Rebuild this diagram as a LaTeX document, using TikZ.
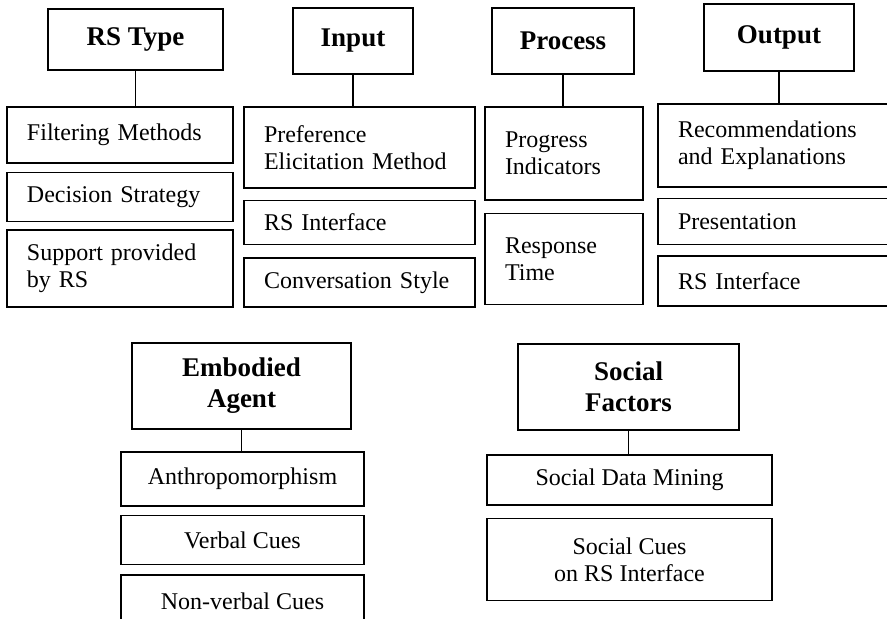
\documentclass[tikz,border=0pt]{standalone}
\usepackage{fontspec}
\setmainfont{Liberation Serif}
\usepackage{tikz}
\usetikzlibrary{positioning}

\begin{document}
\begin{tikzpicture}[
    x=1pt, y=-1pt,
    headbox/.style={rectangle, draw, line width=1.4pt, align=center, inner sep=0pt,
                    font=\fontsize{27}{31}\selectfont\bfseries},
    itembox/.style={rectangle, draw, line width=1.4pt, align=left, inner xsep=20pt,
                    inner ysep=0pt, font=\fontsize{24}{27}\selectfont},
    midbox/.style={rectangle, draw, line width=1.4pt, align=center, inner sep=0pt,
                   minimum width=#1, font=\fontsize{24}{27}\selectfont},
    link/.style={line width=1.4pt},
  ]
    \useasboundingbox (0,0) rectangle (887,619);
    \clip (0,0) rectangle (887,619);

    \node[headbox, minimum width=175pt, minimum height=61pt] (rstype) at (135.5,39.5) {RS Type};
    \node[headbox, minimum width=120pt, minimum height=66pt] (input) at (353,41) {Input};
    \node[headbox, minimum width=142pt, minimum height=66pt] (process) at (563,41) {Process};
    \node[headbox, minimum width=150pt, minimum height=67pt] (output) at (779,37.5) {Output};

    \node[itembox, text width=186pt, minimum height=56pt] (filter) at (120,135) {Filtering Methods};
    \node[itembox, text width=186pt, minimum height=49pt, below=8pt of filter] (strategy) {Decision Strategy};
    \node[itembox, text width=186pt, minimum height=77pt, below=7pt of strategy] (support) {Support provided\\by RS};

    \node[itembox, text width=191pt, minimum height=81pt] (elicit) at (359.5,147.5) {Preference\\Elicitation Method};
    \node[itembox, text width=191pt, minimum height=44pt, below=11pt of elicit] (interfaceA) {RS Interface};
    \node[itembox, text width=191pt, minimum height=49pt, below=12pt of interfaceA] (convstyle) {Conversation Style};

    \node[itembox, text width=118pt, minimum height=93pt] (progress) at (564,153.5) {Progress\\Indicators};
    \node[itembox, text width=118pt, minimum height=91pt, below=12pt of progress] (resptime) {Response\\Time};

    \node[itembox, text width=194pt, minimum height=83pt] (recexp) at (775,145.5) {Recommendations\\and Explanations};
    \node[itembox, text width=194pt, minimum height=46pt, below=10pt of recexp] (present) {Presentation};
    \node[itembox, text width=194pt, minimum height=50pt, below=10pt of present] (interfaceB) {RS Interface};

    \node[headbox, minimum width=219pt, minimum height=86pt] (agent) at (241.5,386) {Embodied\\Agent};
    \node[midbox=243pt, minimum height=54pt] (anthro) at (242.5,479) {Anthropomorphism};
    \node[midbox=243pt, minimum height=49pt, below=8pt of anthro] (verbal) {Verbal Cues};
    \node[midbox=243pt, minimum height=52pt, below=9pt of verbal] (nonverbal) {Non-verbal Cues};

    \node[headbox, minimum width=221pt, minimum height=86pt] (social) at (628.5,387) {Social\\Factors};
    \node[midbox=285pt, minimum height=50pt] (mining) at (629.5,480) {Social Data Mining};
    \node[midbox=285pt, minimum height=82pt, below=12pt of mining] (socialcues) {Social Cues\\on RS Interface};

    \draw[link] (rstype.south) -- (rstype.south |- filter.north);
    \draw[link] (input.south) -- (input.south |- elicit.north);
    \draw[link] (process.south) -- (process.south |- progress.north);
    \draw[link] (output.south) -- (output.south |- recexp.north);
    \draw[link] (agent.south) -- (agent.south |- anthro.north);
    \draw[link] (social.south) -- (social.south |- mining.north);
  \end{tikzpicture}
\end{document}
